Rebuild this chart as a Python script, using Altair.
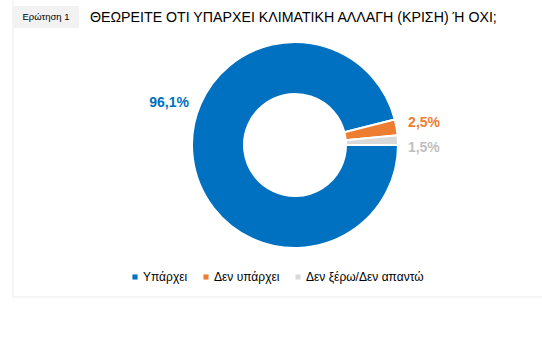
import math
import altair as alt
import pandas as pd

categories = ["Υπάρχει", "Δεν υπάρχει", "Δεν ξέρω/Δεν απαντώ"]
values = [96.1, 2.5, 1.5]
labels = ["96,1%", "2,5%", "1,5%"]
colors = ["#0070C0", "#ED7D31", "#D9D9D9"]
label_colors = ["#0070C0", "#ED7D31", "#BFBFBF"]
title_text = "ΘΕΩΡΕΙΤΕ ΟΤΙ ΥΠΑΡΧΕΙ ΚΛΙΜΑΤΙΚΗ ΑΛΛΑΓΗ (ΚΡΙΣΗ) Ή ΟΧΙ;"
question_text = "Ερώτηση 1"

df = pd.DataFrame({"cat": categories, "val": values, "lab": labels,
                   "idx": list(range(len(categories)))})

FONT = "Liberation Sans"
CX, CY = 295, 145

theta = alt.Theta("val:Q", stack=True,
                  scale=alt.Scale(range=[math.pi / 2, math.pi / 2 + 2 * math.pi]))
order = alt.Order("idx:Q", sort="ascending")

base = alt.Chart(df)

arcs = base.mark_arc(outerRadius=103, innerRadius=51, stroke="white",
                     strokeWidth=2).encode(
    theta=theta,
    order=order,
    x=alt.value(CX), y=alt.value(CY),
    color=alt.Color("cat:N", sort=categories,
                    scale=alt.Scale(domain=categories, range=colors),
                    legend=alt.Legend(orient="none", legendX=129, legendY=271,
                                      direction="horizontal", title=None,
                                      symbolType="square", symbolSize=26,
                                      symbolStrokeWidth=0,
                                      labelFont=FONT, labelFontSize=12,
                                      labelColor="#000000", labelOffset=2,
                                      columnPadding=12)),
)

offsets = [(3, -58), (1, 0), (-1, 9)]
text_layers = []
for i, c in enumerate(categories):
    t = base.transform_calculate(
        show=f"datum.cat === {c!r} ? datum.lab : ''"
    ).mark_text(radius=130, font=FONT, fontSize=14, fontWeight="bold",
                color=label_colors[i], dx=offsets[i][0], dy=offsets[i][1]).encode(
        theta=theta, order=order,
        x=alt.value(CX), y=alt.value(CY),
        text="show:N",
    )
    text_layers.append(t)

one = alt.Chart(pd.DataFrame({"q": [question_text], "t": [title_text]}))

qbox = one.mark_rect(color="#F2F2F2").encode(
    x=alt.value(13), x2=alt.value(79), y=alt.value(6), y2=alt.value(28))
qtext = one.mark_text(font=FONT, fontSize=9.5, color="#000000", align="center",
                      baseline="middle").encode(
    x=alt.value(46), y=alt.value(17), text="q:N")
ttext = one.mark_text(font=FONT, fontSize=14.2, color="#000000", align="left",
                      baseline="middle").encode(
    x=alt.value(90), y=alt.value(18), text="t:N")
left_rule = one.mark_rule(color="#F2F2F2", strokeWidth=1.5).encode(
    x=alt.value(13), y=alt.value(0), y2=alt.value(297))
bottom_rule = one.mark_rule(color="#F2F2F2", strokeWidth=1.5).encode(
    x=alt.value(13), x2=alt.value(542), y=alt.value(297))

chart = alt.layer(left_rule, bottom_rule, qbox, qtext, ttext, arcs, *text_layers).properties(
    width=542, height=352, padding=0, autosize=alt.AutoSizeParams(type="none"),
    background="white",
).configure_view(stroke=None)

chart.save("out.html", embed_options={"renderer": "svg", "actions": False})
